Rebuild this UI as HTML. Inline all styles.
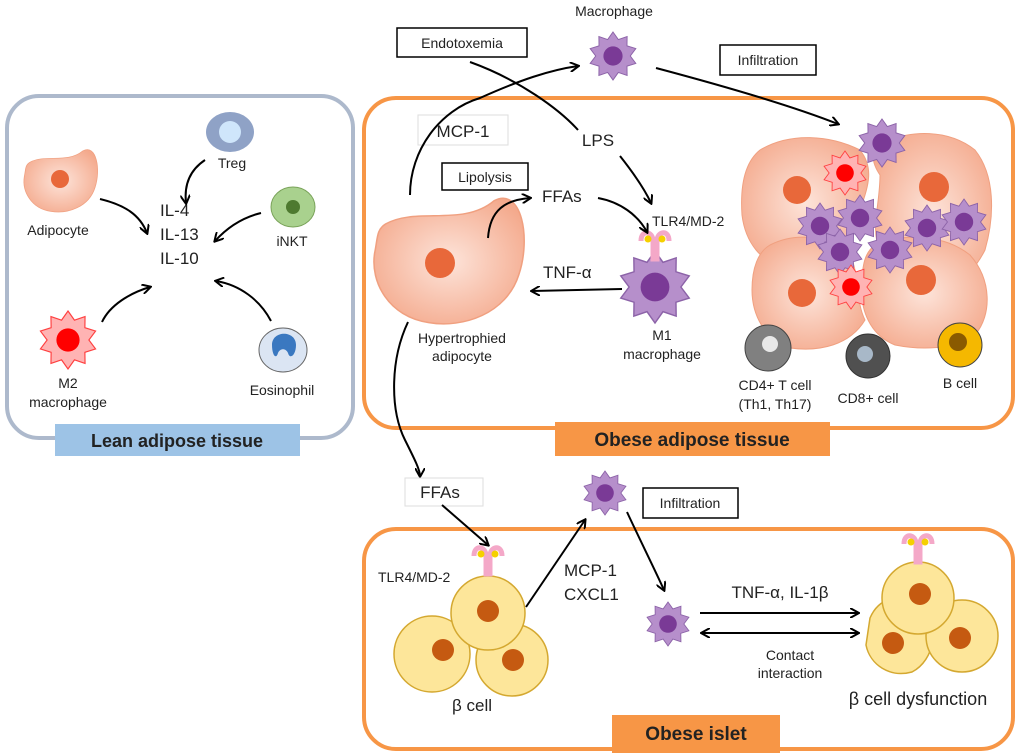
<!DOCTYPE html>
<html><head><meta charset="utf-8"><style>
body{margin:0;background:#fff}
svg{display:block;font-family:"Liberation Sans",sans-serif}
text{fill:#222}
</style></head><body>
<svg width="1024" height="756" viewBox="0 0 1024 756" xmlns="http://www.w3.org/2000/svg">
<defs>
<marker id="ah" markerWidth="10" markerHeight="10" refX="8" refY="5" orient="auto" markerUnits="userSpaceOnUse"><path d="M0,0 L9,5 L0,10" fill="none" stroke="#000" stroke-width="2"/></marker>
<marker id="ahs" markerWidth="10" markerHeight="10" refX="8" refY="5" orient="auto-start-reverse" markerUnits="userSpaceOnUse"><path d="M0,0 L9,5 L0,10" fill="none" stroke="#000" stroke-width="2"/></marker>
<radialGradient id="adg" cx="0.5" cy="0.5" r="0.6"><stop offset="0" stop-color="#fde4da"/><stop offset="1" stop-color="#f4a98c"/></radialGradient>
<path id="blob" d="M10,20 C30,8 60,22 80,4 C98,-6 104,30 96,55 C88,82 60,92 38,88 C12,84 0,60 3,40 C5,30 4,24 10,20 Z"/>
<polygon id="star" points="0,-1 0.222,-0.685 0.588,-0.809 0.582,-0.423 0.951,-0.309 0.72,0 0.951,0.309 0.582,0.423 0.588,0.809 0.222,0.685 0,1 -0.222,0.685 -0.588,0.809 -0.582,0.423 -0.951,0.309 -0.72,0 -0.951,-0.309 -0.582,-0.423 -0.588,-0.809 -0.222,-0.685"/>
<g id="mac"><use href="#star" fill="#b68fcb" stroke="#8c63a8" stroke-width="0.04"/><circle r="0.4" fill="#7a3a96"/></g>
<g id="red"><use href="#star" fill="#ffb3b3" stroke="#ff4040" stroke-width="0.04"/><circle r="0.4" fill="#ff0000"/></g>
<g id="rec"><path d="M-14,-6 C-14,-18 -2,-16 -2,-6 L-2,12 L2,12 L2,-6 C2,-16 14,-18 14,-6" fill="none" stroke="#f4a8c8" stroke-width="5"/><circle cx="-7" cy="-8" r="3.5" fill="#f5d000"/><circle cx="7" cy="-8" r="3.5" fill="#f5d000"/></g>
</defs>

<!-- Lean box -->
<rect x="7" y="96" width="346" height="342" rx="32" fill="#fff" stroke="#adb9cc" stroke-width="4"/>
<rect x="55" y="424" width="245" height="32" fill="#9dc3e6"/>
<text x="177" y="447" font-size="18" font-weight="bold" text-anchor="middle" fill="#000">Lean adipose tissue</text>
<use href="#blob" transform="translate(22,148) scale(0.76,0.72)" fill="url(#adg)" stroke="#f0a080"/>
<circle cx="60" cy="179" r="9" fill="#e8683a"/>
<text x="58" y="235" font-size="14" text-anchor="middle">Adipocyte</text>
<ellipse cx="230" cy="132" rx="24" ry="20" fill="#8fa2c6"/><circle cx="230" cy="132" r="11" fill="#cfe6fb"/>
<text x="232" y="168" font-size="14" text-anchor="middle">Treg</text>
<ellipse cx="293" cy="207" rx="22" ry="20" fill="#a9d18e" stroke="#7aa35a"/><circle cx="293" cy="207" r="7" fill="#4e7a30"/>
<text x="292" y="246" font-size="14" text-anchor="middle">iNKT</text>
<text x="160" y="216" font-size="17">IL-4</text>
<text x="160" y="240" font-size="17">IL-13</text>
<text x="160" y="264" font-size="17">IL-10</text>
<use href="#red" transform="translate(68,340) scale(29)"/>
<text x="68" y="388" font-size="14" text-anchor="middle">M2</text>
<text x="68" y="407" font-size="14" text-anchor="middle">macrophage</text>
<ellipse cx="283" cy="350" rx="24" ry="22" fill="#dbe5f3" stroke="#666"/><path d="M272,345 C272,330 296,330 296,345 C296,355 290,360 288,353 C286,348 280,348 278,353 C276,360 272,355 272,345Z" fill="#3a78c0"/>
<text x="282" y="395" font-size="14" text-anchor="middle">Eosinophil</text>
<g fill="none" stroke="#000" stroke-width="2">
<path d="M100,199 C125,205 140,215 147,233" marker-end="url(#ah)"/>
<path d="M205,160 C190,170 184,185 186,203" marker-end="url(#ah)"/>
<path d="M261,213 C240,218 225,230 215,241" marker-end="url(#ah)"/>
<path d="M102,322 C110,305 130,293 150,287" marker-end="url(#ah)"/>
<path d="M271,321 C260,300 240,285 216,281" marker-end="url(#ah)"/>
</g>

<!-- Obese adipose box -->
<rect x="364" y="98" width="649" height="330" rx="32" fill="none" stroke="#f79646" stroke-width="4"/>
<rect x="555" y="422" width="275" height="34" fill="#f79646"/>
<text x="692" y="446" font-size="19" font-weight="bold" text-anchor="middle" fill="#000">Obese adipose tissue</text>

<!-- hypertrophied adipocyte -->
<use href="#blob" transform="translate(370,195) scale(1.55,1.45) rotate(0)" fill="url(#adg)" stroke="#f0a080"/>
<circle cx="440" cy="263" r="15" fill="#e8683a"/>
<text x="462" y="343" font-size="14" text-anchor="middle">Hypertrophied</text>
<text x="462" y="361" font-size="14" text-anchor="middle">adipocyte</text>
<use href="#mac" transform="translate(655,287) scale(36)"/>
<use href="#rec" transform="translate(655,247)"/>
<text x="662" y="340" font-size="14" text-anchor="middle">M1</text>
<text x="662" y="359" font-size="14" text-anchor="middle">macrophage</text>
<text x="652" y="226" font-size="14">TLR4/MD-2</text>
<text x="543" y="278" font-size="17">TNF-α</text>
<text x="542" y="202" font-size="17">FFAs</text>
<rect x="442" y="163" width="86" height="27" fill="#fff" stroke="#000" stroke-width="1.5"/>
<text x="485" y="182" font-size="14" text-anchor="middle">Lipolysis</text>
<rect x="418" y="115" width="90" height="30" fill="#fff" stroke="#ddd"/>
<text x="463" y="137" font-size="17" text-anchor="middle">MCP-1</text>
<text x="598" y="146" font-size="17" text-anchor="middle">LPS</text>
<rect x="397" y="28" width="130" height="29" fill="#fff" stroke="#000" stroke-width="1.5"/>
<text x="462" y="48" font-size="14" text-anchor="middle">Endotoxemia</text>
<text x="614" y="16" font-size="14" text-anchor="middle">Macrophage</text>
<use href="#mac" transform="translate(613,56) scale(24)"/>
<rect x="720" y="45" width="96" height="30" fill="#fff" stroke="#000" stroke-width="1.5"/>
<text x="768" y="65" font-size="14" text-anchor="middle">Infiltration</text>
<g fill="none" stroke="#000" stroke-width="2">
<path d="M410,195 C410,150 440,110 480,98 C520,80 550,70 578,66" marker-end="url(#ah)"/>
<path d="M470,62 C520,80 560,110 578,130"/>
<path d="M620,156 C635,175 645,190 651,203" marker-end="url(#ah)"/>
<path d="M488,238 C490,210 505,200 530,198" marker-end="url(#ah)"/>
<path d="M598,198 C620,202 638,215 647,232" marker-end="url(#ah)"/>
<path d="M622,289 L532,291" marker-end="url(#ah)"/>
<path d="M656,68 C720,85 790,105 838,124" marker-end="url(#ah)"/>
<path d="M408,322 C390,360 390,410 405,440 C415,460 420,470 420,476" marker-end="url(#ah)"/>
</g>

<!-- cluster -->
<g fill="url(#adg)" stroke="#f0a080">
<path d="M760,150 C790,132 830,135 860,150 C880,175 860,200 855,230 C840,250 820,265 790,268 C760,265 745,240 742,215 C740,185 745,162 760,150Z"/>
<path d="M880,145 C910,128 950,130 975,150 C995,175 995,215 985,250 C970,280 940,300 910,295 C890,285 900,260 880,250 C870,230 880,205 880,175 C870,160 872,150 880,145Z"/>
<path d="M770,245 C795,232 830,235 850,255 C860,275 855,300 865,320 C850,345 820,352 790,348 C765,340 752,315 752,290 C752,268 758,252 770,245Z"/>
<path d="M875,245 C905,232 945,235 970,255 C992,280 992,315 975,335 C955,350 920,350 895,345 C870,335 860,310 862,285 C862,265 865,252 875,245Z"/>
</g>
<circle cx="797" cy="190" r="14" fill="#e8683a"/>
<circle cx="934" cy="187" r="15" fill="#e8683a"/>
<circle cx="802" cy="293" r="14" fill="#e8683a"/>
<circle cx="921" cy="280" r="15" fill="#e8683a"/>
<use href="#mac" transform="translate(882,143) scale(24)"/>
<use href="#red" transform="translate(845,173) scale(22)"/>
<use href="#mac" transform="translate(820,226) scale(23)"/>
<use href="#mac" transform="translate(860,218) scale(23)"/>
<use href="#mac" transform="translate(840,252) scale(23)"/>
<use href="#mac" transform="translate(890,250) scale(23)"/>
<use href="#mac" transform="translate(927,228) scale(23)"/>
<use href="#mac" transform="translate(964,222) scale(23)"/>
<use href="#red" transform="translate(851,287) scale(22)"/>
<circle cx="768" cy="348" r="23" fill="#808080" stroke="#444"/><circle cx="770" cy="344" r="8" fill="#e8e8e8"/>
<circle cx="868" cy="356" r="22" fill="#505050" stroke="#333"/><circle cx="865" cy="354" r="8" fill="#a8b8c8"/>
<circle cx="960" cy="345" r="22" fill="#f5b800" stroke="#444"/><circle cx="958" cy="342" r="9" fill="#8a5a00"/>
<text x="775" y="390" font-size="14" text-anchor="middle">CD4+ T cell</text>
<text x="775" y="409" font-size="14" text-anchor="middle">(Th1, Th17)</text>
<text x="868" y="403" font-size="14" text-anchor="middle">CD8+ cell</text>
<text x="960" y="388" font-size="14" text-anchor="middle">B cell</text>

<!-- Islet box -->
<rect x="364" y="529" width="649" height="220" rx="32" fill="none" stroke="#f79646" stroke-width="4"/>
<rect x="612" y="715" width="168" height="38" fill="#f79646"/>
<text x="696" y="740" font-size="19" font-weight="bold" text-anchor="middle" fill="#000">Obese islet</text>
<rect x="405" y="478" width="78" height="28" fill="#fff" stroke="#ddd"/>
<text x="440" y="498" font-size="17" text-anchor="middle">FFAs</text>
<g fill="#fde69a" stroke="#d4a830" stroke-width="1.5">
<circle cx="432" cy="654" r="38"/><circle cx="512" cy="660" r="36"/><circle cx="488" cy="613" r="37"/>
</g>
<circle cx="488" cy="611" r="11" fill="#c55a11"/><circle cx="443" cy="650" r="11" fill="#c55a11"/><circle cx="513" cy="660" r="11" fill="#c55a11"/>
<use href="#rec" transform="translate(488,562)"/>
<text x="378" y="582" font-size="14">TLR4/MD-2</text>
<text x="472" y="711" font-size="17" text-anchor="middle">β cell</text>
<text x="564" y="576" font-size="17">MCP-1</text>
<text x="564" y="600" font-size="17">CXCL1</text>
<use href="#mac" transform="translate(605,493) scale(22)"/>
<rect x="643" y="488" width="95" height="30" fill="#fff" stroke="#000" stroke-width="1.5"/>
<text x="690" y="508" font-size="14" text-anchor="middle">Infiltration</text>
<use href="#mac" transform="translate(668,624) scale(22)"/>
<text x="780" y="598" font-size="17" text-anchor="middle">TNF-α, IL-1β</text>
<text x="790" y="660" font-size="14" text-anchor="middle">Contact</text>
<text x="790" y="678" font-size="14" text-anchor="middle">interaction</text>
<g fill="none" stroke="#000" stroke-width="2">
<path d="M442,505 L488,545" marker-end="url(#ah)"/>
<path d="M526,607 L585,520" marker-end="url(#ah)"/>
<path d="M627,512 C640,540 655,570 664,590" marker-end="url(#ah)"/>
<path d="M700,613 L858,613" marker-end="url(#ah)"/>
<path d="M702,633 L858,633" marker-start="url(#ahs)" marker-end="url(#ah)"/>
</g>
<g fill="#fde69a" stroke="#d4a830" stroke-width="1.5">
<path d="M870,618 C880,595 905,592 925,605 C940,625 935,660 912,672 C890,678 870,665 866,645 Z"/>
<circle cx="962" cy="636" r="36"/><circle cx="918" cy="598" r="36"/>
</g>
<circle cx="920" cy="594" r="11" fill="#c55a11"/><circle cx="893" cy="643" r="11" fill="#c55a11"/><circle cx="960" cy="638" r="11" fill="#c55a11"/>
<use href="#rec" transform="translate(918,550)"/>
<text x="918" y="705" font-size="18" text-anchor="middle">β cell dysfunction</text>
</svg>
</body></html>
